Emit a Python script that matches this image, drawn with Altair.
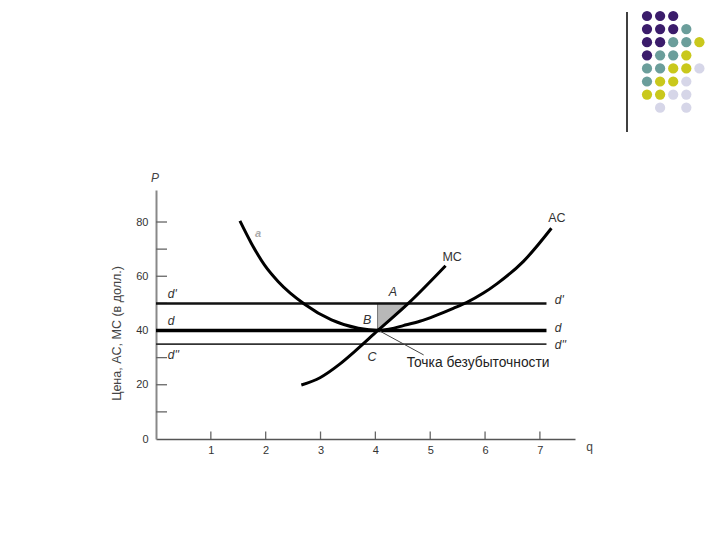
import altair as alt
import pandas as pd

# ---------------- data ----------------
ac_q = [1.53, 1.74, 1.98, 2.23, 2.71, 3.20, 3.69, 4.05, 4.27, 4.51, 4.81, 5.12, 5.42, 5.66, 5.97, 6.22, 6.70, 7.21]
ac_p = [80.4, 72.1, 64.1, 58.0, 49.7, 43.9, 40.8, 40.0, 40.6, 41.8, 43.4, 45.7, 48.2, 50.3, 53.8, 57.3, 65.5, 77.7]

mc_q = [2.65, 2.99, 3.35, 3.63, 4.05, 4.60, 5.28]
mc_p = [19.9, 22.6, 27.6, 32.4, 40.1, 50.0, 63.9]

demand_p = [50, 40, 35]          # d', d, d''
demand_end = 7.12

tri_q = [4.04, 4.60]
tri_top = [50, 50]
tri_bottom = [40, 50]

y_minor_ticks = [10, 20, 30, 40, 50, 60, 70, 80]
x_ticks = [1, 2, 3, 4, 5, 6, 7]
y_labels = [0, 20, 40, 60, 80]

left_labels = ["d'", "d", "d''"]
left_label_p = [53.5, 43.5, 31.0]
right_labels = ["d'", "d", "d''"]
right_label_p = [51.2, 40.9, 34.7]

point_labels = ["A", "B", "C"]
point_label_q = [4.32, 3.85, 3.94]
point_label_p = [54.2, 43.9, 30.2]

curve_labels = ["MC", "AC"]
curve_label_q = [5.40, 7.31]
curve_label_p = [67.1, 81.5]

faint_label = "a"
faint_label_q = 1.86
faint_label_p = 75.6

note_text = "Точка безубыточности"
note_line_q = [4.08, 4.88]
note_line_p = [39.8, 31.0]

dot_rows = ["PPP", "PPPT", "PPTTY", "PTTY", "TTYYL", "TYYL", "YYLL", ".L.L"]
dot_colors = {"P": "#3b1c6b", "T": "#6b9e9b", "Y": "#c9c81c", "L": "#d6d6e8"}

# ---------------- chart ----------------
FONT = "Liberation Sans"
XMAX, YMAX = 7.64, 91.8
W, H = 419, 249
PX_X = W / XMAX      # px per q unit
PX_Y = H / YMAX      # px per P unit

xs = alt.Scale(domain=[0, XMAX], nice=False, zero=False)
ys = alt.Scale(domain=[0, YMAX], nice=False, zero=False)

x_axis = alt.Axis(values=x_ticks, ticks=False, grid=False, orient="bottom",
                  domainColor="#555555", domainWidth=1.5,
                  labelFont=FONT, labelFontSize=11, labelColor="#333333", labelPadding=5,
                  title="q", titleFont=FONT, titleFontSize=12, titleFontWeight="normal",
                  titleColor="#444444", titleX=433, titleY=7, titleAlign="center",
                  titleBaseline="middle")
y_axis = alt.Axis(values=y_labels, ticks=False, grid=False, orient="left",
                  domainColor="#888888", domainWidth=2,
                  labelFont=FONT, labelFontSize=11, labelColor="#333333", labelPadding=8,
                  title="Цена, AC, MC (в долл.)", titleFont=FONT, titleFontSize=12.5,
                  titleFontWeight="normal", titleColor="#444444", titleAngle=270,
                  titleX=-40, titleY=143, titleAlign="center", titleBaseline="middle")

def X(f="q"):
    return alt.X(f + ":Q", scale=xs, axis=x_axis)

def Y(f="p"):
    return alt.Y(f + ":Q", scale=ys, axis=y_axis)

yt_df = pd.DataFrame({"p": y_minor_ticks})
yticks = alt.Chart(yt_df).mark_rule(color="#666666", strokeWidth=1.3).transform_calculate(
    q0="0", q1=str(11 / PX_X)).encode(x=X("q0"), x2="q1:Q", y=Y("p"))
xt_df = pd.DataFrame({"q": x_ticks})
xticks = alt.Chart(xt_df).mark_rule(color="#666666", strokeWidth=1.3).transform_calculate(
    p0="0", p1=str(7.5 / PX_Y)).encode(x=X("q"), y=Y("p0"), y2="p1:Q")

tri_df = pd.DataFrame({"q": tri_q, "top": tri_top, "bottom": tri_bottom})
tri = alt.Chart(tri_df).mark_area(color="#b8b8b8", stroke="#777777", strokeWidth=1,
                                  opacity=1).encode(x=X("q"), y=Y("top"), y2="bottom:Q")

def hline(p, width, color):
    df = pd.DataFrame({"p": [p], "q0": [0], "q1": [demand_end]})
    return alt.Chart(df).mark_rule(color=color, strokeWidth=width).encode(
        x=X("q0"), x2="q1:Q", y=Y("p"))

d1 = hline(demand_p[0], 2.5, "#111111")
d0 = hline(demand_p[1], 3.5, "#000000")
d2 = hline(demand_p[2], 1.8, "#333333")

ac_df = pd.DataFrame({"q": ac_q, "p": ac_p})
ac = alt.Chart(ac_df).mark_line(color="#000000", strokeWidth=3, interpolate="monotone").encode(
    x=X("q"), y=Y("p"))
mc_df = pd.DataFrame({"q": mc_q, "p": mc_p})
mc = alt.Chart(mc_df).mark_line(color="#000000", strokeWidth=3, interpolate="monotone").encode(
    x=X("q"), y=Y("p"))

note_df = pd.DataFrame({"q": note_line_q, "p": note_line_p})
note_line = alt.Chart(note_df).mark_line(color="#444444", strokeWidth=1).encode(x=X("q"), y=Y("p"))
note = alt.Chart(pd.DataFrame({"q": [4.57], "p": [27.9], "t": [note_text]})).mark_text(
    font=FONT, fontSize=13.8, color="#222222", align="left", baseline="middle").encode(
    x=X("q"), y=Y("p"), text="t:N")

ll_df = pd.DataFrame({"t": left_labels, "p": left_label_p, "q": [0.215] * 3})
ll = alt.Chart(ll_df).mark_text(font=FONT, fontSize=12, fontStyle="italic", color="#333333",
                                align="left", baseline="middle").encode(x=X("q"), y=Y("p"), text="t:N")
rl_df = pd.DataFrame({"t": right_labels, "p": right_label_p, "q": [7.27] * 3})
rl = alt.Chart(rl_df).mark_text(font=FONT, fontSize=12, fontStyle="italic", color="#333333",
                                align="left", baseline="middle").encode(x=X("q"), y=Y("p"), text="t:N")
pl_df = pd.DataFrame({"t": point_labels, "q": point_label_q, "p": point_label_p})
pl = alt.Chart(pl_df).mark_text(font=FONT, fontSize=12.5, fontStyle="italic", color="#333333",
                                align="center", baseline="middle").encode(x=X("q"), y=Y("p"), text="t:N")
cl_df = pd.DataFrame({"t": curve_labels, "q": curve_label_q, "p": curve_label_p})
cl = alt.Chart(cl_df).mark_text(font=FONT, fontSize=12.5, color="#333333",
                                align="center", baseline="middle").encode(x=X("q"), y=Y("p"), text="t:N")
faint = alt.Chart(pd.DataFrame({"t": [faint_label], "q": [faint_label_q], "p": [faint_label_p]})).mark_text(
    font=FONT, fontSize=11, fontStyle="italic", fontWeight="bold", color="#aaaaaa",
    align="center", baseline="middle").encode(x=X("q"), y=Y("p"), text="t:N")
ptitle = alt.Chart(pd.DataFrame({"t": ["P"], "q": [-0.02], "p": [96.2]})).mark_text(
    font=FONT, fontSize=12, fontStyle="italic", color="#444444", align="center",
    baseline="middle").encode(x=X("q"), y=Y("p"), text="t:N")

# decorative dot grid (top right), placed through the same scales
recs = []
for r, row in enumerate(dot_rows):
    for c, ch in enumerate(row):
        if ch != ".":
            recs.append({"col": c, "row": r, "k": ch})
dots_df = pd.DataFrame(recs)
GX0, GY0, GSTEP = 647 - 156, 439 - 16, 13.1   # grid origin in px from plot origin
dots = alt.Chart(dots_df).mark_circle(size=105, opacity=1).transform_calculate(
    q=f"({GX0} + datum.col * {GSTEP}) / {PX_X}",
    p=f"({GY0} - datum.row * {GSTEP}) / {PX_Y}",
).encode(
    x=X("q"), y=Y("p"),
    color=alt.Color("k:N", scale=alt.Scale(domain=list(dot_colors.keys()),
                                           range=list(dot_colors.values())), legend=None),
)
vline = alt.Chart(pd.DataFrame({"a": [0]})).mark_rule(color="#000000", strokeWidth=1.5).encode(
    x=alt.value(471), y=alt.value(-178), y2=alt.value(-58))

chart = alt.layer(
    yticks, xticks, tri, d1, d0, d2, ac, mc, note_line, note, ll, rl, pl, cl, faint, ptitle, dots, vline
).properties(
    width=W, height=H,
    autosize=alt.AutoSizeParams(type="none"),
    padding={"left": 148, "top": 182, "right": 137, "bottom": 93},
    background="#ffffff",
).configure_view(stroke=None)

chart.save("out.html", embed_options={"renderer": "svg", "actions": False})
